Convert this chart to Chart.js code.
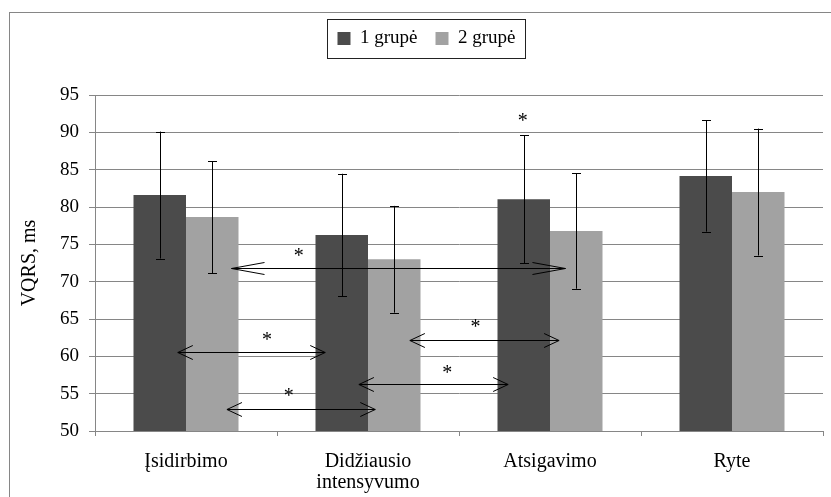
<!DOCTYPE html>
<html>
<head>
<meta charset="utf-8">
<script src="https://cdn.jsdelivr.net/npm/chart.js@4.4.0/dist/chart.umd.min.js"></script>
<style>
  html, body { margin: 0; padding: 0; background: #fff; }
  canvas { display: block; }
</style>
</head>
<body>
<canvas id="vqrsChart" width="831" height="497"></canvas>
<script>
// data
const categories = ['Įsidirbimo', ['Didžiausio', 'intensyvumo'], 'Atsigavimo', 'Ryte'];
const seriesNames = ['1 grupė', '2 grupė'];
const group1    = [81.6, 76.25, 81.05, 84.15];
const group1Err = [8.5, 8.2, 8.55, 7.45];
const group2    = [78.65, 73.0, 76.8, 82.0];
const group2Err = [7.5, 7.15, 7.75, 8.5];
const yMin = 50, yMax = 95, yStep = 5;

// significance arrows (x in category index units, y in ms)
const arrowFrom = [0.25, -0.045, 0.225, 0.95, 1.23];
const arrowTo   = [2.085, 0.765, 1.04, 1.77, 2.05];
const arrowAt   = [71.8, 60.55, 52.95, 56.3, 62.2];
const starX = [0.62, 0.445, 0.565, 1.435, 1.59, 1.85];
const starY = [73.75, 62.45, 55.0, 58.05, 64.2, 91.8];

const FONT = "'Liberation Serif', 'Times New Roman', serif";
const GRID = '#868686';
const arrowHeadLen = [33, 15, 15, 15, 15];

const frame = {
  id: 'frame',
  beforeDraw(chart) {
    const ctx = chart.ctx;
    ctx.save();
    ctx.fillStyle = '#fff';
    ctx.fillRect(0, 0, chart.width, chart.height);
    ctx.strokeStyle = GRID;
    ctx.lineWidth = 1;
    ctx.strokeRect(9.5, 12.5, chart.width + 20, chart.height + 20);
    ctx.restore();
  },
  afterLayout(chart) {
    // put legend back at the top and nudge it right like the original
    const lg = chart.legend;
    const h = lg.bottom - lg.top;
    lg.top = 11;
    lg.bottom = 11 + h;
    lg.left += 10;
    lg.right += 10;
  },
  afterDraw(chart) {
    const hb = chart.legend.legendHitBoxes;
    if (!hb || !hb.length) return;
    const ctx = chart.ctx;
    const last = hb[hb.length - 1];
    const l = Math.round(hb[0].left - 10) + 0.5;
    const r = Math.round(last.left + last.width + 9) + 0.5;
    const cy = hb[0].top + hb[0].height / 2;
    const t = Math.round(cy - 19.5) + 0.5;
    ctx.save();
    ctx.strokeStyle = '#222';
    ctx.lineWidth = 1;
    ctx.strokeRect(l, t, r - l, 39);
    ctx.restore();
  }
};

const errorBars = {
  id: 'errorBars',
  afterDatasetsDraw(chart) {
    const ctx = chart.ctx;
    const y = chart.scales.y;
    const errs = [group1Err, group2Err];
    ctx.save();
    ctx.strokeStyle = '#000';
    ctx.lineWidth = 1;
    chart.data.datasets.forEach((ds, i) => {
      chart.getDatasetMeta(i).data.forEach((bar, j) => {
        const x = Math.round(bar.x) + 0.5;
        const top = y.getPixelForValue(ds.data[j] + errs[i][j]);
        const bot = y.getPixelForValue(ds.data[j] - errs[i][j]);
        ctx.beginPath();
        ctx.moveTo(x, top); ctx.lineTo(x, bot);
        ctx.moveTo(x - 4.5, Math.round(top) + 0.5); ctx.lineTo(x + 4.5, Math.round(top) + 0.5);
        ctx.moveTo(x - 4.5, Math.round(bot) + 0.5); ctx.lineTo(x + 4.5, Math.round(bot) + 0.5);
        ctx.stroke();
      });
    });
    ctx.restore();
  }
};

const annotations = {
  id: 'annotations',
  afterDatasetsDraw(chart) {
    const ctx = chart.ctx;
    const xs = chart.scales.x, ys = chart.scales.y;
    ctx.save();
    ctx.strokeStyle = '#000';
    ctx.lineWidth = 1;
    arrowAt.forEach((v, i) => {
      const x1 = xs.getPixelForValue(arrowFrom[i]);
      const x2 = xs.getPixelForValue(arrowTo[i]);
      const py = Math.round(ys.getPixelForValue(v)) + 0.5;
      const hl = arrowHeadLen[i], hw = hl > 20 ? 6 : 7;
      ctx.beginPath();
      ctx.moveTo(x1, py); ctx.lineTo(x2, py);
      ctx.moveTo(x1 + hl, py - hw); ctx.lineTo(x1, py); ctx.lineTo(x1 + hl, py + hw);
      ctx.moveTo(x2 - hl, py - hw); ctx.lineTo(x2, py); ctx.lineTo(x2 - hl, py + hw);
      ctx.stroke();
    });
    ctx.fillStyle = '#000';
    ctx.font = '20px ' + FONT;
    ctx.textAlign = 'center';
    ctx.textBaseline = 'middle';
    starX.forEach((sx, i) => {
      ctx.fillText('*', xs.getPixelForValue(sx), ys.getPixelForValue(starY[i]) + 3);
    });
    ctx.restore();
  }
};

new Chart(document.getElementById('vqrsChart').getContext('2d'), {
  type: 'bar',
  data: {
    labels: categories,
    datasets: [
      { label: seriesNames[0], data: group1, backgroundColor: '#4b4b4b', borderWidth: 0 },
      { label: seriesNames[1], data: group2, backgroundColor: '#a2a2a2', borderWidth: 0 }
    ]
  },
  options: {
    responsive: false,
    animation: false,
    categoryPercentage: 0.577,
    barPercentage: 1,
    layout: { padding: { left: 10, right: 8, top: 11, bottom: 0 } },
    plugins: {
      legend: {
        position: 'top',
        labels: { boxWidth: 13, boxHeight: 13, padding: 18, color: '#000', font: { family: FONT, size: 19 } }
      },
      tooltip: { enabled: false }
    },
    scales: {
      x: {
        grid: { drawOnChartArea: false, color: GRID, tickLength: 5 },
        border: { color: GRID },
        ticks: { color: '#000', font: { family: FONT, size: 20, lineHeight: 1.05 }, padding: 15, maxRotation: 0, autoSkip: false },
        afterFit(s) { s.height = 66; }
      },
      y: {
        min: yMin, max: yMax,
        grid: { color: GRID, tickLength: 6 },
        border: { color: GRID },
        ticks: { stepSize: yStep, color: '#000', font: { family: FONT, size: 19 }, padding: 10 },
        title: { display: true, text: 'VQRS, ms', color: '#000', font: { family: FONT, size: 20 }, padding: { top: 8, bottom: 0 } },
        afterFit(s) { s.width = 85; s.paddingTop = 95; }
      }
    }
  },
  plugins: [frame, errorBars, annotations]
});
</script>
</body>
</html>
